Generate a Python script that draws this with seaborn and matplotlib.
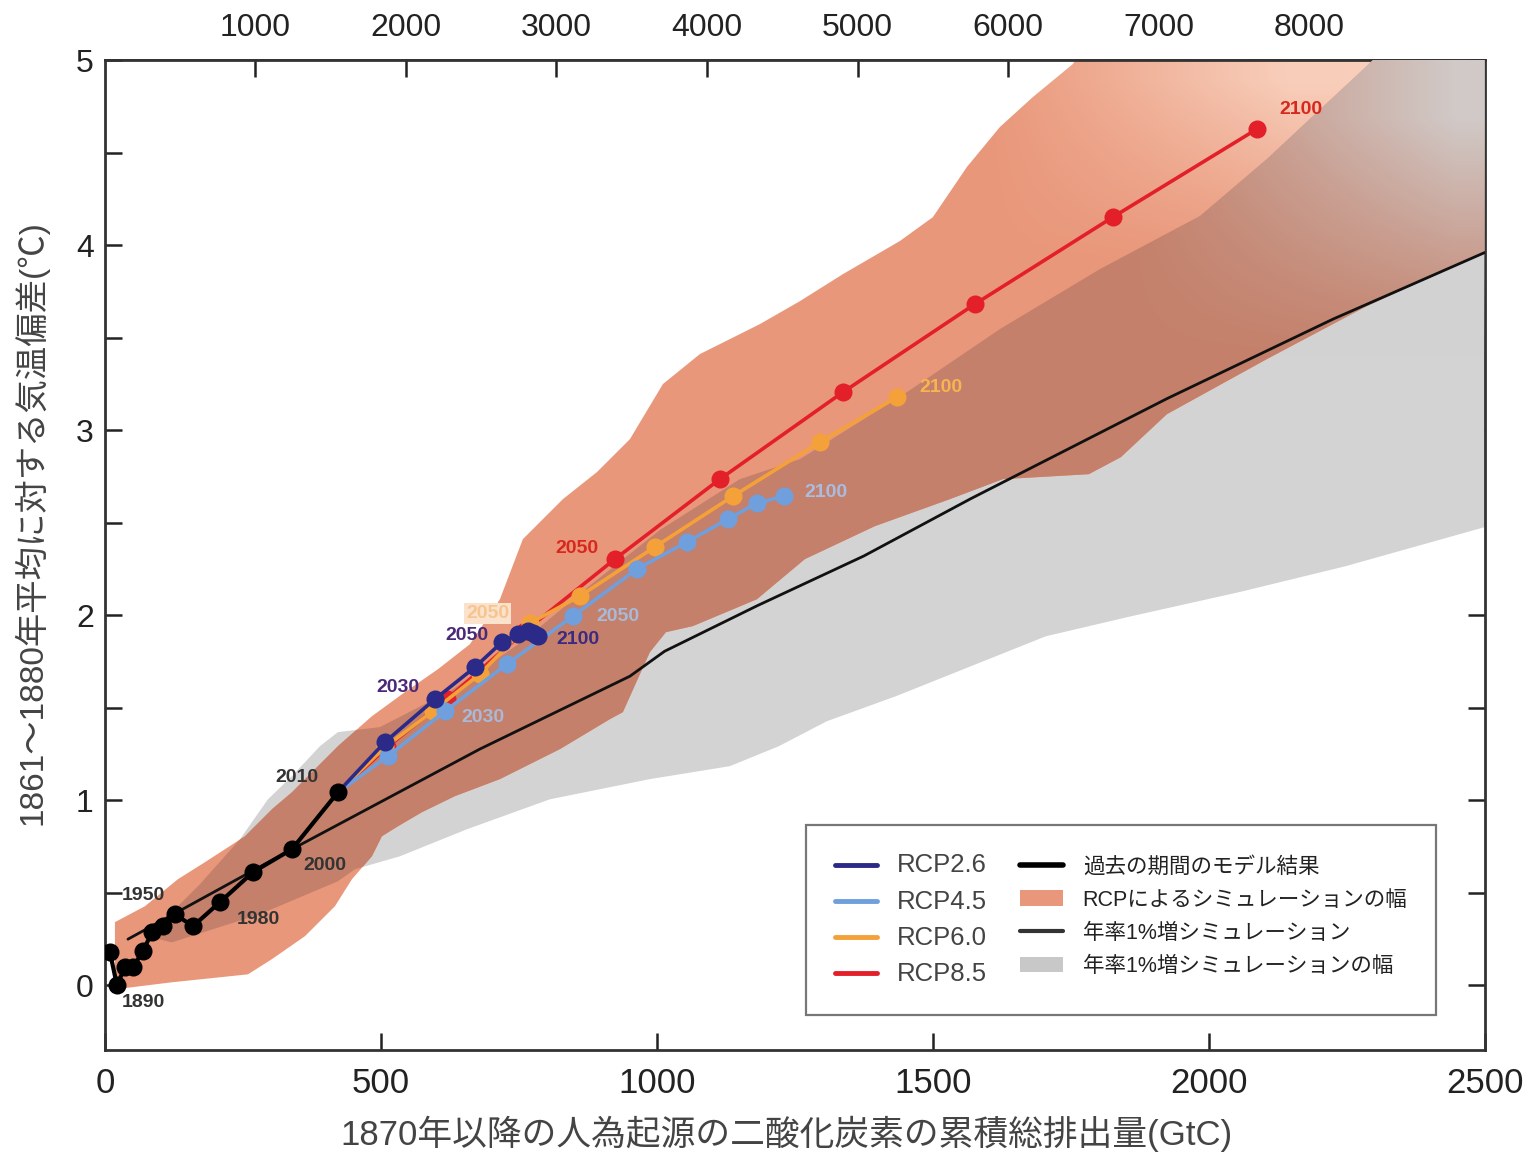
import numpy as np
import matplotlib
matplotlib.use("Agg")
import matplotlib.pyplot as plt
import seaborn as sns
from matplotlib import font_manager as fm
from matplotlib.lines import Line2D
from matplotlib.patches import Patch

# ---------------- data (GtC, degC) ----------------
hist_x = [9.1, 21.7, 36.2, 50.7, 68.8, 85.1, 105.1, 126.8, 159.4, 208.3, 268.1, 338.8, 422.1]
hist_y = [0.178, 0.0, 0.097, 0.097, 0.184, 0.286, 0.319, 0.384, 0.319, 0.449, 0.611, 0.735, 1.043]

one_pct_x = [41.7, 338.8, 679, 951, 1014, 1181, 1375, 1569, 1924, 2225, 2500]
one_pct_y = [0.249, 0.735, 1.276, 1.67, 1.805, 2.05, 2.32, 2.63, 3.17, 3.60, 3.96]

years = [2010, 2020, 2030, 2040, 2050, 2060, 2070, 2080, 2090, 2100]
rcp26_x = [422.1, 507.2, 597.8, 670.3, 719.2, 748.2, 766.3, 775.0, 781.0, 785.0]
rcp26_y = [1.043, 1.314, 1.546, 1.719, 1.854, 1.897, 1.914, 1.905, 1.895, 1.885]
rcp45_x = [422.1, 512.7, 616.0, 728.0, 847.8, 963.8, 1054.0, 1128.6, 1181.0, 1230.0]
rcp45_y = [1.043, 1.238, 1.481, 1.735, 1.995, 2.249, 2.395, 2.519, 2.605, 2.643]
rcp60_x = [422.1, 507.0, 594.0, 679.0, 770.0, 860.5, 996.0, 1137.7, 1295.3, 1434.8]
rcp60_y = [1.043, 1.286, 1.481, 1.681, 1.957, 2.103, 2.368, 2.643, 2.935, 3.178]
rcp85_x = [422.1, 510.9, 619.6, 760.9, 923.9, 1114.0, 1337.0, 1576.0, 1826.0, 2087.0]
rcp85_y = [1.043, 1.286, 1.546, 1.914, 2.303, 2.735, 3.205, 3.681, 4.151, 4.627]

# RCP range band
rcp_up_x = [18.1, 72.5, 132.2, 181.2, 253.6, 302.5, 338.8, 385.9, 422.1, 483.7, 543.5, 603.3,
            661.2, 715.6, 757.2, 829.7, 891.3, 951.1, 1010.9, 1077.9, 1186.6, 1259.1, 1337.0,
            1440.2, 1500.0, 1561.6, 1621.4, 1681.2, 1753.6, 1893.0, 2500.0]
rcp_up_y = [0.341, 0.427, 0.573, 0.665, 0.805, 0.951, 1.043, 1.184, 1.292, 1.454, 1.584, 1.708,
            1.843, 2.086, 2.411, 2.627, 2.773, 2.951, 3.249, 3.411, 3.573, 3.697, 3.843,
            4.022, 4.151, 4.422, 4.638, 4.800, 4.978, 5.6, 7.5]
rcp_lo_x = [18.1, 121.4, 259.1, 302.5, 362.3, 416.7, 447.5, 483.7, 501.8, 530.8, 574.3, 634.1,
            715.6, 824.3, 914.9, 938.4, 969.2, 987.3, 1016.3, 1065.2, 1181.2, 1268.1, 1394.9,
            1530.8, 1626.8, 1782.6, 1840.6, 1923.9, 2105.1, 2286.2, 2500.0]
rcp_lo_y = [-0.022, 0.016, 0.059, 0.141, 0.265, 0.427, 0.573, 0.697, 0.805, 0.859, 0.935, 1.022,
            1.114, 1.276, 1.438, 1.476, 1.681, 1.800, 1.908, 1.941, 2.086, 2.303, 2.481,
            2.627, 2.735, 2.762, 2.854, 3.086, 3.384, 3.670, 3.962]

# 1%/yr simulation range band
pct_up_x = [81.5, 172.1, 244.6, 295.3, 338.8, 389.5, 422.1, 498.2, 625.0, 757.2, 878.6, 1005.4,
            1150.4, 1259.1, 1452.9, 1621.4, 1802.5, 1983.7, 2105.1, 2286.2, 2500.0]
pct_up_y = [0.276, 0.546, 0.789, 1.005, 1.130, 1.292, 1.368, 1.395, 1.589, 1.86, 2.16, 2.46,
            2.735, 2.843, 3.205, 3.546, 3.870, 4.157, 4.465, 4.968, 5.6]
pct_lo_x = [81.5, 121.4, 280.8, 422.1, 452.9, 534.4, 655.8, 806.2, 987.3, 1132.2, 1221.0, 1308.0,
            1433.0, 1568.8, 1704.7, 1860.5, 2054.3, 2248.2, 2500.0]
pct_lo_y = [0.260, 0.232, 0.384, 0.562, 0.627, 0.697, 0.843, 1.005, 1.114, 1.184, 1.292, 1.427,
            1.562, 1.724, 1.886, 1.995, 2.124, 2.265, 2.476]

top_ticks = [1000, 2000, 3000, 4000, 5000, 6000, 7000, 8000]   # GtCO2
bottom_ticks = [0, 500, 1000, 1500, 2000, 2500]
y_ticks = [0, 1, 2, 3, 4, 5]

legend_labels = ["RCP2.6", "RCP4.5", "RCP6.0", "RCP8.5",
                 "過去の期間のモデル結果", "RCPによるシミュレーションの幅",
                 "年率1%増シミュレーション", "年率1%増シミュレーションの幅"]
xlabel = "1870年以降の人為起源の二酸化炭素の累積総排出量(GtC)"
ylabel = "1861～1880年平均に対する気温偏差(℃)"

# ---------------- style ----------------
sns.set_theme(style="white")


def has_font(name):
    try:
        fm.findfont(fm.FontProperties(family=name), fallback_to_default=False)
        return True
    except Exception:
        return False


NUM_FONT = "Liberation Sans Narrow" if has_font("Liberation Sans Narrow") else "Liberation Sans"
plt.rcParams["font.family"] = [NUM_FONT, "Noto Sans CJK JP", "DejaVu Sans"]
JP = ["Noto Sans CJK JP", "DejaVu Sans"]
ARIAL = ["Liberation Sans", "DejaVu Sans"]

C26, C45, C60, C85 = "#2b2a88", "#6f9fdc", "#f5a13a", "#e3202a"
SALMON, BROWN, GRAY = "#e9977a", "#c4806a", "#d3d3d3"

fig = plt.figure(figsize=(15.32, 11.55), dpi=100)
ax = fig.add_axes([0.0685, 0.0909, 0.9007, 0.8571])

# bands
gray_poly = ax.fill(pct_up_x + pct_lo_x[::-1], pct_up_y + pct_lo_y[::-1],
                    color=GRAY, lw=0, zorder=1)[0]
rcp_poly = ax.fill(rcp_up_x + rcp_lo_x[::-1], rcp_up_y + rcp_lo_y[::-1],
                   color=SALMON, lw=0, zorder=2)[0]

gx = np.linspace(0, 2500, 300)
gy = np.linspace(-0.35, 5, 200)
GX, GY = np.meshgrid(gx, gy)


def ramp(rgb, a):
    arr = np.zeros(GX.shape + (4,))
    arr[..., 0], arr[..., 1], arr[..., 2] = rgb
    arr[..., 3] = a
    return arr


# lighter peach toward the top of the RCP band
peach = ax.imshow(ramp((0.99, 0.87, 0.80),
                       0.8 * np.clip((GX - 1600) / 550, 0, 1) * np.clip((GY - 3.9) / 1.0, 0, 1)),
                  extent=(0, 2500, -0.35, 5), origin="lower", aspect="auto",
                  zorder=2.5, interpolation="bilinear")
peach.set_clip_path(rcp_poly)

overlap = ax.fill(pct_up_x + pct_lo_x[::-1], pct_up_y + pct_lo_y[::-1],
                  color=BROWN, lw=0, zorder=3)[0]
overlap.set_clip_path(rcp_poly)

# overlap fading into grey toward the top right corner
fade = ax.imshow(ramp((0.827, 0.827, 0.827),
                      0.9 * np.clip((GX - 1850) / 600, 0, 1) * np.clip((GY - 3.4) / 1.3, 0, 1)),
                 extent=(0, 2500, -0.35, 5), origin="lower", aspect="auto",
                 zorder=3.5, interpolation="bilinear")
fade.set_clip_path(gray_poly)

# 1% line
sns.lineplot(x=one_pct_x, y=one_pct_y, sort=False, estimator=None, color="#111111",
             linewidth=2.0, ax=ax, zorder=5)
# historical
sns.lineplot(x=hist_x, y=hist_y, sort=False, estimator=None, color="black",
             linewidth=3.0, marker="o", markersize=13, markeredgewidth=0, ax=ax, zorder=9)

series = [(rcp85_x, rcp85_y, C85, 6), (rcp60_x, rcp60_y, C60, 7),
          (rcp45_x, rcp45_y, C45, 7.5), (rcp26_x, rcp26_y, C26, 8)]
for xs, ys, c, z in series:
    sns.lineplot(x=xs[1:], y=ys[1:], sort=False, estimator=None, color=c, linewidth=2.6,
                 marker="o", markersize=13, markeredgewidth=0, ax=ax, zorder=z)
    sns.lineplot(x=xs[:2], y=ys[:2], sort=False, estimator=None, color=c, linewidth=2.6,
                 ax=ax, zorder=z)


# year annotations
def note(txt, x, y, dx, dy, color, **kw):
    ax.annotate(txt, (x, y), xytext=(dx, dy), textcoords="offset pixels",
                ha="center", va="center", fontsize=14, fontweight="bold",
                color=color, family=ARIAL, zorder=12, **kw)


HC = "#333333"
note("1890", hist_x[1], hist_y[1], 26, -17, HC)
note("1950", hist_x[4], hist_y[4], 0, 56, HC)
note("1980", hist_x[9], hist_y[9], 38, -17, HC)
note("2000", hist_x[11], hist_y[11], 33, -16, HC)
note("2010", hist_x[12], hist_y[12], -41, 15, HC)

note("2030", rcp26_x[2], rcp26_y[2], -37, 12, "#4a2a78")
note("2050", rcp26_x[4], rcp26_y[4], -35, 7, "#4a2a78")
note("2100", rcp26_x[9], rcp26_y[9], 40, -3, "#3a2a80")
note("2030", rcp45_x[2], rcp45_y[2], 38, -6, "#a9b9d8")
note("2050", rcp45_x[4], rcp45_y[4], 45, 0, "#a9b9d8")
note("2100", rcp45_x[9], rcp45_y[9], 42, 4, "#a9bde0")
note("2050", rcp60_x[4], rcp60_y[4], -42, 10, "#f6c58f",
     bbox=dict(boxstyle="square,pad=0.1", fc="#fbe2cc", ec="none"))
note("2100", rcp60_x[9], rcp60_y[9], 44, 10, "#f8b450")
note("2050", rcp85_x[4], rcp85_y[4], -38, 11, "#d8281e")
note("2100", rcp85_x[9], rcp85_y[9], 44, 20, "#d8281e")

# axes
ax.set_xlim(0, 2500)
ax.set_ylim(-0.35, 5)
ax.set_xticks(bottom_ticks)
ax.set_yticks(y_ticks)
ax.set_yticks([v + 0.5 for v in y_ticks[:-1]], minor=True)
ax.tick_params(axis="both", which="both", direction="in", length=12, width=1.8,
               colors="#222222", left=True, bottom=True, top=False, right=True)
ax.tick_params(axis="x", labelsize=25, pad=12)
ax.tick_params(axis="y", labelsize=23, pad=8)
for lab in ax.get_yticklabels():
    lab.set_family(ARIAL)
for s in ax.spines.values():
    s.set_color("#333333")
    s.set_linewidth(2.0)

sec = ax.secondary_xaxis("top", functions=(lambda v: v * 3.667, lambda v: v / 3.667))
sec.set_xticks(top_ticks)
sec.tick_params(direction="in", length=12, width=1.8, colors="#222222", labelsize=23, pad=12)

ax.set_xlabel(xlabel, fontsize=25, color="#444444", family=[NUM_FONT] + JP)
ax.set_ylabel(ylabel, fontsize=24, color="#444444", family=[NUM_FONT] + JP)
ax.xaxis.set_label_coords(0.494, -0.066)
ax.yaxis.set_label_coords(-0.041, 0.533)

# legend
handles = [Line2D([], [], color=C26, lw=3.5), Line2D([], [], color=C45, lw=3.5),
           Line2D([], [], color=C60, lw=3.5), Line2D([], [], color=C85, lw=3.5),
           Line2D([], [], color="black", lw=4), Patch(facecolor=SALMON, lw=0),
           Line2D([], [], color="#333333", lw=3), Patch(facecolor="#c8c8c8", lw=0)]
leg = ax.legend(handles, legend_labels, ncol=2, loc="lower left",
                bbox_to_anchor=(0.508, 0.0354), borderaxespad=0.0, frameon=True,
                fancybox=False, edgecolor="#555555", fontsize=16, handlelength=1.9,
                handletextpad=0.9, columnspacing=1.5, labelspacing=0.55, borderpad=1.3)
leg.get_frame().set_linewidth(1.6)
for i, t in enumerate(leg.get_texts()):
    if i < 4:
        t.set_color("#444444")
        t.set_fontsize(18.5)
        t.set_family(ARIAL)
    else:
        t.set_color("#222222")
        t.set_fontsize(15.5)
leg.set_zorder(20)

fig.savefig("out.png", dpi=100)
